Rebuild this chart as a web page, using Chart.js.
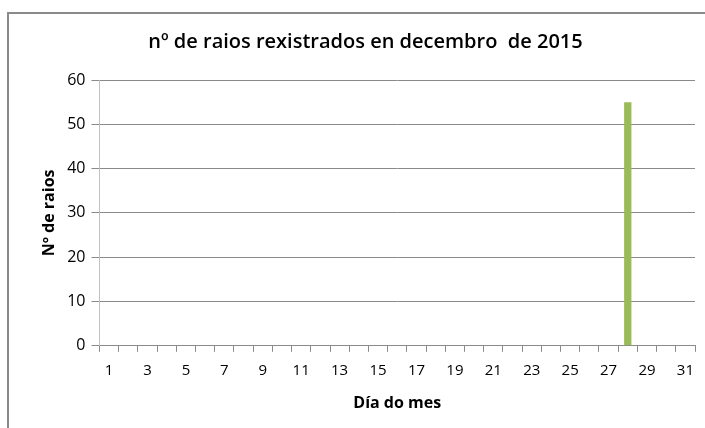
<!DOCTYPE html>
<html lang="gl">
<head>
  <meta charset="UTF-8" />
  <title>Raios decembro 2015</title>
  <script src="https://cdn.jsdelivr.net/npm/chart.js"></script>
  <style>
    html, body { margin: 0; padding: 0; background: #fff; }
    #wrap { position: relative; width: 705px; height: 428px; overflow: hidden; }
    #frame { position: absolute; left: 7px; top: 12px; width: 720px; height: 440px;
             border: 2px solid #8a8a8a; box-sizing: border-box; }
    canvas { position: absolute; left: 0; top: 0; }
  </style>
</head>
<body>
<div id="wrap">
  <div id="frame"></div>
  <canvas id="raios" width="705" height="428"></canvas>
</div>
<script>
const days = ['1','2','3','4','5','6','7','8','9','10','11','12','13','14','15','16',
              '17','18','19','20','21','22','23','24','25','26','27','28','29','30','31'];
const raios = [0,0,0,0,0,0,0,0,0,0,0,0,0,0,0,0,0,0,0,0,0,0,0,0,0,0,0,55,0,0,0];
const yTicks = [0, 10, 20, 30, 40, 50, 60];

const ctx = document.getElementById('raios').getContext('2d');
new Chart(ctx, {
  type: 'bar',
  data: {
    labels: days,
    datasets: [{
      label: 'Nº de raios',
      data: raios,
      backgroundColor: '#9bbb59',
      barPercentage: 0.38,
      categoryPercentage: 1
    }]
  },
  options: {
    responsive: false,
    animation: false,
    layout: { padding: { left: 36, right: 10, top: 30, bottom: 11 } },
    plugins: {
      legend: { display: false },
      tooltip: { enabled: false },
      title: {
        display: true,
        text: 'nº de raios rexistrados en decembro  de 2015',
        color: '#000',
        font: { family: 'Open Sans', size: 20, weight: '600' },
        padding: { top: 0, bottom: 26 }
      }
    },
    scales: {
      x: {
        grid: { display: true, drawOnChartArea: false, offset: true, color: '#8a8a8a', tickLength: 6 },
        border: { color: '#8a8a8a' },
        ticks: {
          autoSkip: false, maxRotation: 0, color: '#000', padding: 10,
          font: { family: 'Open Sans', size: 15 },
          callback: (v, i) => (i % 2 === 0 ? days[i] : '')
        },
        title: { display: true, text: 'Día do mes', color: '#000',
                 font: { family: 'Open Sans', size: 16, weight: 'bold' }, padding: { top: 4 } }
      },
      y: {
        min: 0, max: 60,
        afterBuildTicks: axis => { axis.ticks = yTicks.map(v => ({ value: v })); },
        grid: { color: '#8a8a8a', tickLength: 8 },
        border: { color: '#c0c0c0' },
        ticks: { color: '#000', padding: 6, font: { family: 'Open Sans', size: 16 } },
        title: { display: true, text: 'Nº de raios', color: '#000',
                 font: { family: 'Open Sans', size: 16, weight: 'bold' }, padding: { bottom: 2 } }
      }
    }
  }
});
</script>
</body>
</html>
